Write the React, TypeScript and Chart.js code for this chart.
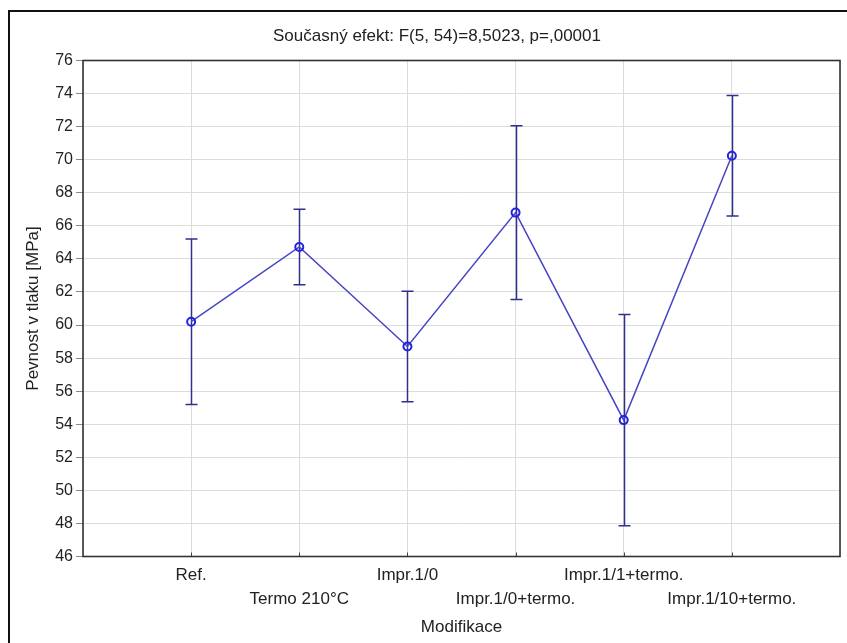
import React, { useEffect, useRef } from "react";
import { Chart, registerables } from "chart.js";

Chart.register(...registerables);

const FONT = '"Liberation Sans", Arial, sans-serif';

const titleText = "Současný efekt: F(5, 54)=8,5023, p=,00001";
const yTitle = "Pevnost v tlaku [MPa]";
const xTitle = "Modifikace";

const categories = [
  "Ref.",
  "Termo 210°C",
  "Impr.1/0",
  "Impr.1/0+termo.",
  "Impr.1/1+termo.",
  "Impr.1/10+termo.",
];
const labelRow = [0, 1, 0, 1, 0, 1];

const means = [60.2, 64.72, 58.7, 66.8, 54.25, 70.24];
const lower = [55.2, 62.44, 55.36, 61.55, 47.86, 66.6];
const upper = [65.2, 67.0, 62.04, 72.05, 60.64, 73.88];

const yMin = 46;
const yMax = 76;
const yStep = 2;

const framePlugin = {
  id: "framePlugin",
  beforeDraw(chart: any) {
    const ctx = chart.ctx;
    ctx.save();
    ctx.fillStyle = "#ffffff";
    ctx.fillRect(0, 0, chart.width, chart.height);
    ctx.strokeStyle = "#111111";
    ctx.lineWidth = 2;
    ctx.strokeRect(9, 11, chart.width + 20, chart.height + 20);
    ctx.restore();
  },
  beforeDatasetsDraw(chart: any) {
    const ctx = chart.ctx;
    const xs = chart.scales.x;
    const ys = chart.scales.y;
    ctx.save();
    ctx.strokeStyle = "#30308c";
    ctx.lineWidth = 1.5;
    for (let i = 0; i < means.length; i++) {
      const x = Math.round(xs.getPixelForValue(i + 1)) + 0.5;
      const yl = ys.getPixelForValue(lower[i]);
      const yu = ys.getPixelForValue(upper[i]);
      ctx.beginPath();
      ctx.moveTo(x, yl);
      ctx.lineTo(x, yu);
      ctx.moveTo(x - 6, yl);
      ctx.lineTo(x + 6, yl);
      ctx.moveTo(x - 6, yu);
      ctx.lineTo(x + 6, yu);
      ctx.stroke();
    }
    ctx.restore();
  },
  afterDraw(chart: any) {
    const ctx = chart.ctx;
    const a = chart.chartArea;
    const xs = chart.scales.x;
    ctx.save();
    ctx.strokeStyle = "#444444";
    ctx.lineWidth = 1;
    for (let i = 0; i < categories.length; i++) {
      const x = Math.round(xs.getPixelForValue(i + 1)) + 0.5;
      ctx.beginPath();
      ctx.moveTo(x, a.bottom);
      ctx.lineTo(x, a.bottom - 4);
      ctx.stroke();
    }
    ctx.strokeStyle = "#333333";
    ctx.lineWidth = 1.6;
    ctx.strokeRect(a.left, a.top, a.right - a.left, a.bottom - a.top);
    ctx.fillStyle = "#222222";
    ctx.font = "17px " + FONT;
    ctx.textAlign = "center";
    ctx.textBaseline = "middle";
    ctx.fillText(titleText, 437, 36);
    ctx.restore();
  },
};

export default function App() {
  const ref = useRef<HTMLCanvasElement | null>(null);

  useEffect(() => {
    if (!ref.current) return;
    const chart = new Chart(ref.current, {
      type: "line",
      data: {
        datasets: [
          {
            label: "Pevnost",
            data: means.map((v, i) => ({ x: i + 1, y: v })),
            borderColor: "#4646c4",
            borderWidth: 1.5,
            pointStyle: "circle",
            pointRadius: 4,
            pointBorderWidth: 2,
            pointBorderColor: "#2222e0",
            pointBackgroundColor: "rgba(0,0,0,0)",
            tension: 0,
            fill: false,
          },
        ],
      },
      options: {
        responsive: false,
        animation: false,
        devicePixelRatio: 1,
        layout: { padding: { top: 60.5, right: 7, left: 0, bottom: 0 } },
        plugins: {
          legend: { display: false },
          tooltip: { enabled: false },
          title: { display: false },
        },
        scales: {
          x: {
            type: "linear",
            min: 0,
            max: categories.length + 1,
            afterFit: (s: any) => {
              s.height = 86.5;
            },
            afterBuildTicks: (s: any) => {
              const t = [];
              for (let v = 0; v <= categories.length + 1; v++) t.push({ value: v });
              s.ticks = t;
            },
            ticks: {
              autoSkip: false,
              maxRotation: 0,
              padding: 7,
              color: "#222222",
              font: { family: FONT, size: 17, lineHeight: 1.4 },
              callback: (v: any) => {
                const i = Number(v) - 1;
                if (i < 0 || i >= categories.length) return "";
                return labelRow[i] === 0 ? [categories[i], ""] : ["", categories[i]];
              },
            },
            grid: {
              color: "#dcdcdc",
              lineWidth: 1,
              drawTicks: false,
            },
            border: { display: false },
            title: {
              display: true,
              text: xTitle,
              color: "#222222",
              font: { family: FONT, size: 17 },
              padding: { top: 0, bottom: 5 },
            },
          },
          y: {
            type: "linear",
            min: yMin,
            max: yMax,
            afterFit: (s: any) => {
              s.width = 83;
            },
            ticks: {
              stepSize: yStep,
              padding: 3,
              color: "#222222",
              font: { family: FONT, size: 16 },
            },
            grid: {
              color: "#dcdcdc",
              lineWidth: 1,
              drawTicks: true,
              tickLength: 7,
              tickColor: "#888888",
            },
            border: { display: false },
            title: {
              display: true,
              text: yTitle,
              color: "#222222",
              font: { family: FONT, size: 17 },
              padding: { top: 23, bottom: 0 },
            },
          },
        },
      },
      plugins: [framePlugin],
    } as any);
    return () => chart.destroy();
  }, []);

  return (
    <div
      style={{
        position: "fixed",
        left: 0,
        top: 0,
        width: 847,
        height: 643,
        background: "#ffffff",
      }}
    >
      <canvas ref={ref} width={847} height={643} style={{ width: 847, height: 643, display: "block" }} />
    </div>
  );
}
